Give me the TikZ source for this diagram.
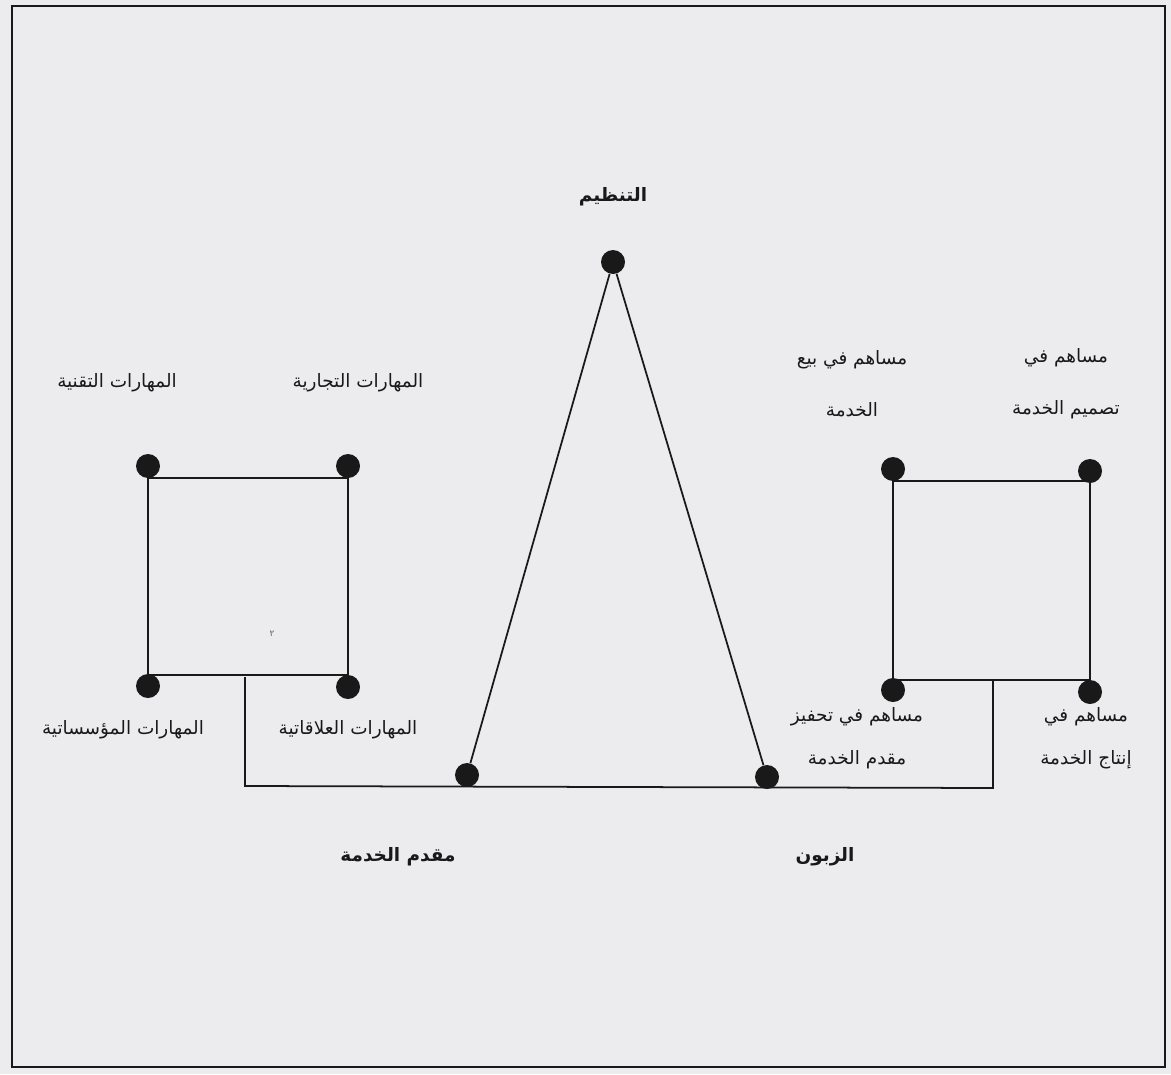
\documentclass[tikz,border=0pt]{standalone}
\usepackage{fontspec}
\usepackage{tikz}
\usetikzlibrary{positioning}
\TeXXeTstate=1
\newfontfamily\arabicfont[Script=Arabic]{DejaVu Sans}
\definecolor{paper}{RGB}{236,236,238}
\definecolor{ink}{RGB}{25,25,25}
\tikzstyle{dot} = [circle, fill=ink, inner sep=0pt, minimum size=4.8mm]
\tikzstyle{lbl} = [font=\arabicfont\fontsize{10.5}{29.5}\selectfont, text=ink, align=center, inner sep=1pt]
\tikzstyle{lbllow} = [lbl, font=\arabicfont\fontsize{10.5}{24.5}\selectfont]
\tikzstyle{head} = [font=\arabicfont\bfseries\fontsize{10.5}{14}\selectfont, text=ink, inner sep=1pt]
\tikzstyle{edge} = [line width=1pt, draw=ink]
\newcommand{\ar}[1]{\beginR #1\endR}

\begin{document}
\begin{tikzpicture}[x=0.2mm,y=-0.2mm]
\fill[paper] (0,0) rectangle (1171,1074);
\useasboundingbox (0,0) rectangle (1171,1074);
\draw[line width=1.4pt, ink] (12,6) rectangle (1165,1067);

% triangle
\node (org) [dot] at (613,262) {};
\node (prov) [dot] at (467,775) {};
\node (cust) [dot] at (767,777) {};
\node [head] at (613,197) {\ar{التنظيم}};
\node [head] at (398,857) {\ar{مقدم الخدمة}};
\node [head] at (825,857) {\ar{الزبون}};

% left square
\node (tech) [dot] at (148,466) {};
\node (trade) [dot] at (348,466) {};
\node (inst) [dot] at (148,686) {};
\node (rel) [dot] at (348,687) {};
\node [lbl] at (117,383) {\ar{المهارات التقنية}};
\node [lbl] at (358,383) {\ar{المهارات التجارية}};
\node [lbl] at (123,730) {\ar{المهارات المؤسساتية}};
\node [lbl] at (348,730) {\ar{المهارات العلاقاتية}};
\node [font=\arabicfont\fontsize{5}{6}\selectfont, text=ink!70] at (272,634) {\ar{٢}};

% right square
\node (sell) [dot] at (893,469) {};
\node (design) [dot] at (1090,471) {};
\node (motiv) [dot] at (893,690) {};
\node (make) [dot] at (1090,692) {};
\node [lbl] at (852,384) {\ar{مساهم في بيع}\\\ar{الخدمة}};
\node [lbl] at (1066,384) {\ar{مساهم في}\\\ar{تصميم الخدمة}};
\node [lbllow] at (857,738) {\ar{مساهم في تحفيز}\\\ar{مقدم الخدمة}};
\node [lbllow] at (1086,738) {\ar{مساهم في}\\\ar{إنتاج الخدمة}};

% links
\coordinate (lb) at (245,677);
\coordinate (rb) at (993,681);
\coordinate (lfoot) at (245,786);
\coordinate (rfoot) at (993,788);
\draw[edge] (tech.south) -- (tech.south -| trade) -- (rel.north) -- (rel.north -| inst) -- cycle;
\draw[edge] (sell.south) -- (sell.south -| design) -- (make.north) -- (make.north -| motiv) -- cycle;
\draw[edge] (prov) -- (org) -- (cust);
\draw[edge] (lb) -- (lfoot) -- (rfoot) -- (rb);
\end{tikzpicture}
\end{document}
